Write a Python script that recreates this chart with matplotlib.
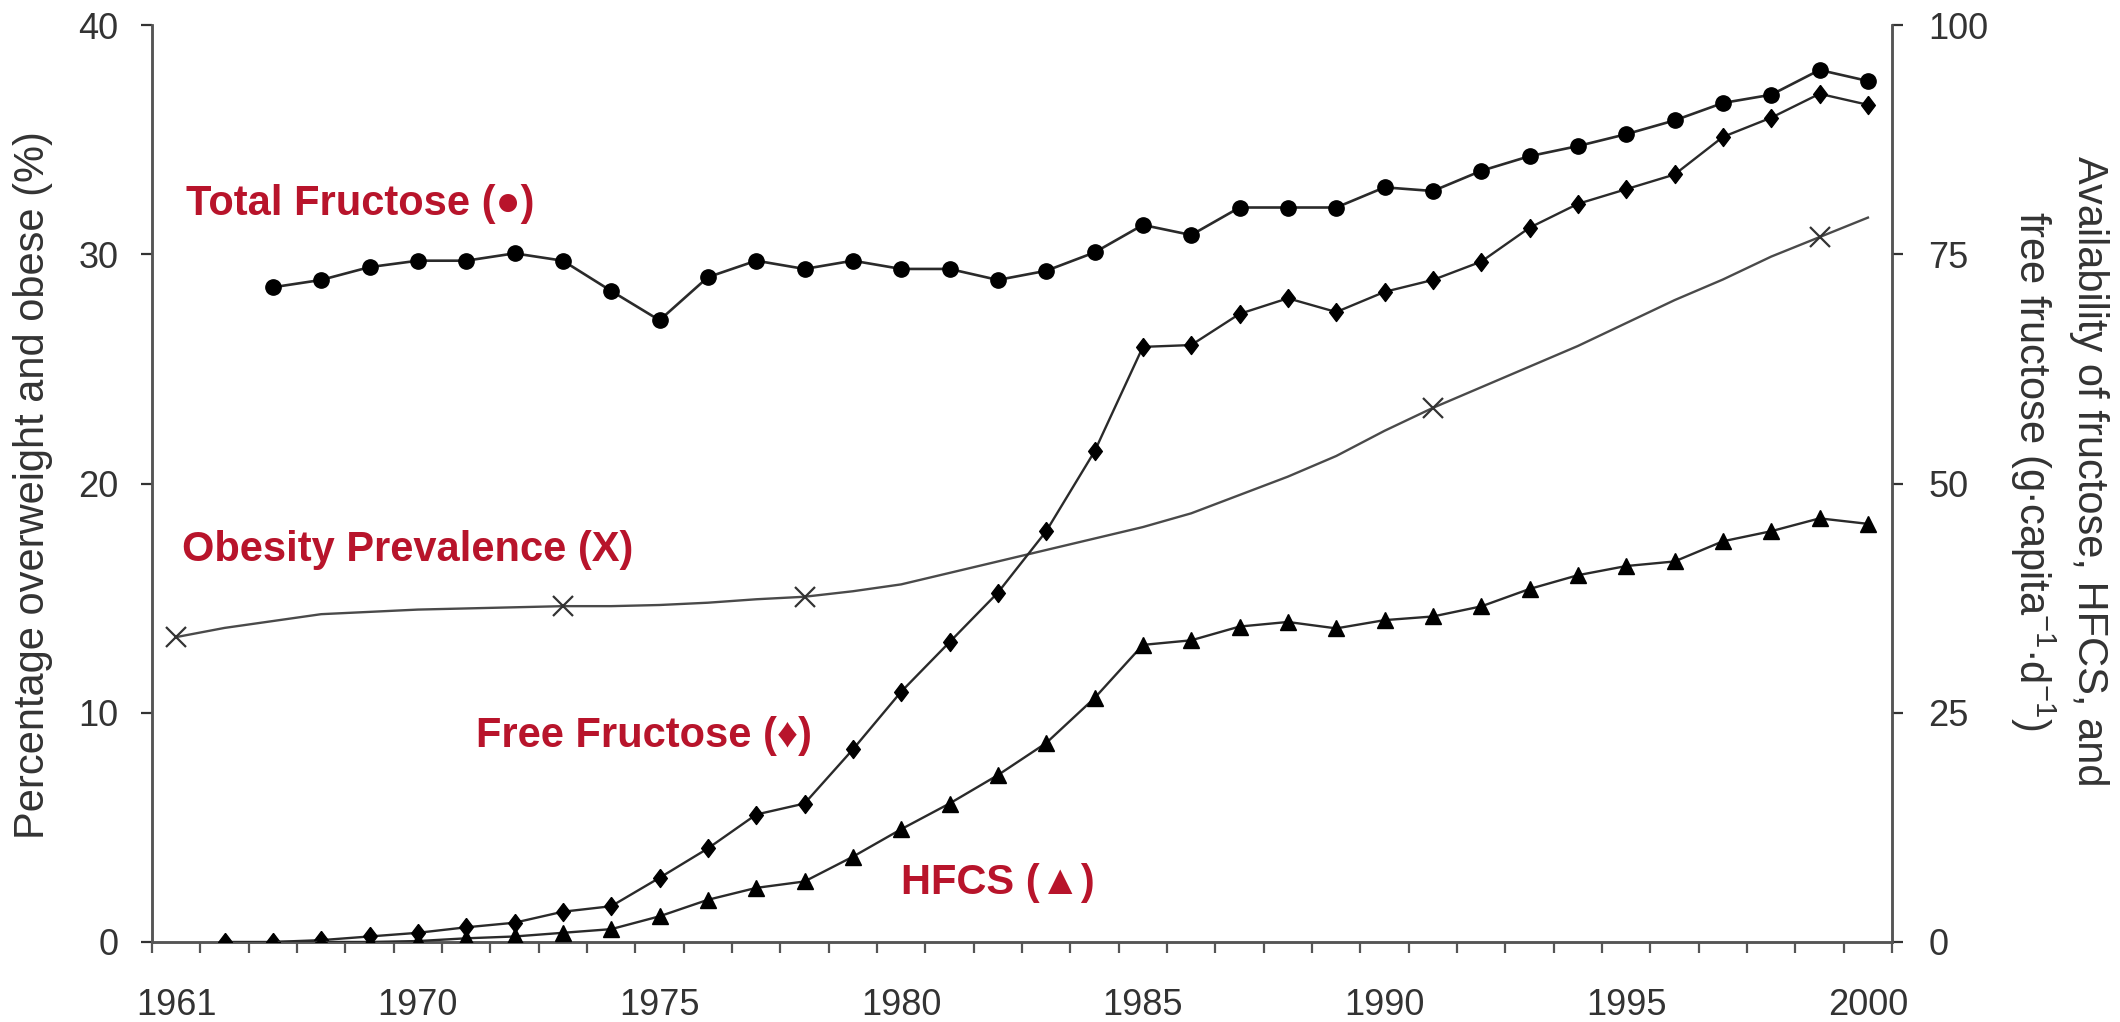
import numpy as np
import matplotlib
matplotlib.use("Agg")
import matplotlib.pyplot as plt

## fonts - arial look-alike
plt.rcParams['font.family'] = ['Liberation Sans', 'DejaVu Sans']
plt.rcParams['mathtext.fontset'] = 'custom'
plt.rcParams['mathtext.rm'] = 'Liberation Sans'

## categories on the x axis (first one is the 1961 survey, then 1966 to 2000)
years = [1961] + list(range(1966, 2001))

## total fructose, g/capita/day (right axis)
total_fructose = [np.nan, np.nan,
                  71.4, 72.2, 73.6, 74.3, 74.3, 75.1, 74.3, 71.0, 67.8,
                  72.5, 74.3, 73.4, 74.3, 73.4, 73.4, 72.2, 73.2, 75.2,
                  78.2, 77.1, 80.1, 80.1, 80.1, 82.3, 81.9, 84.1, 85.7,
                  86.8, 88.1, 89.6, 91.5, 92.4, 95.1, 93.9]

## free fructose, g/capita/day (right axis)
free_fructose = [np.nan, 0.0,
                 0.0, 0.2, 0.6, 1.0, 1.6, 2.1, 3.3, 3.9, 7.0,
                 10.2, 13.9, 15.1, 21.0, 27.3, 32.7, 38.1, 44.8, 53.5,
                 64.9, 65.1, 68.5, 70.2, 68.7, 70.9, 72.2, 74.2, 77.9,
                 80.5, 82.1, 83.7, 87.8, 89.9, 92.5, 91.3]

## high fructose corn syrup, g/capita/day (right axis)
hfcs = [np.nan, np.nan,
        0.0, 0.0, 0.0, 0.1, 0.4, 0.6, 1.0, 1.4, 2.8,
        4.6, 5.9, 6.6, 9.3, 12.3, 15.1, 18.2, 21.7, 26.6,
        32.4, 32.9, 34.4, 34.9, 34.2, 35.1, 35.5, 36.6, 38.5,
        40.0, 41.0, 41.5, 43.7, 44.8, 46.2, 45.6]

## obesity prevalence (%), left axis
obesity = [13.3, 13.7,
           14.0, 14.3, 14.4, 14.5, 14.55, 14.6, 14.65, 14.65, 14.7,
           14.8, 14.95, 15.06, 15.3, 15.6, 16.1, 16.6, 17.1, 17.6,
           18.1, 18.7, 19.5, 20.3, 21.2, 22.3, 23.3, 24.2, 25.1,
           26.0, 27.0, 28.0, 28.9, 29.9, 30.75, 31.6]
survey_years = [1961, 1973, 1978, 1991, 1999]

label_years = [1961, 1970, 1975, 1980, 1985, 1990, 1995, 2000]

x = np.arange(len(years))
survey_idx = [years.index(y) for y in survey_years]

fig = plt.figure(figsize=(21.2, 10.22), dpi=100)
ax = fig.add_axes([0.0717, 0.0783, 0.8208, 0.8972])
ax2 = ax.twinx()

## slightly squat diamond like the excel one
diamond = [(0, 1), (0.76, 0), (0, -1), (-0.76, 0), (0, 1)]

line_col = '#2a2a2a'
ax.plot(x, obesity, color='#4a4a4a', lw=1.7, marker='x', markevery=survey_idx,
        ms=14, mew=1.6, mec='#333333', zorder=2)
ax2.plot(x, total_fructose, color=line_col, lw=1.9, marker='o', ms=11,
         mfc='black', mec='black', zorder=3)
ax2.plot(x, free_fructose, color=line_col, lw=1.7, marker=diamond, ms=13,
         mfc='black', mec='black', zorder=3)
ax2.plot(x, hfcs, color=line_col, lw=1.7, marker='^', ms=11.5,
         mfc='black', mec='black', zorder=3)

ax.set_xlim(-0.5, len(years) - 0.5)
ax.set_ylim(0, 40)
ax2.set_ylim(0, 100)
ax.set_yticks([0, 10, 20, 30, 40])
ax2.set_yticks([0, 25, 50, 75, 100])

## category labels in the middle, tick marks on the boundaries (excel style)
ax.set_xticks([years.index(y) for y in label_years])
ax.set_xticklabels([str(y) for y in label_years])
ax.set_xticks(np.arange(-0.5, len(years)), minor=True)
ax.tick_params(axis='x', which='major', length=0, pad=33, labelsize=26, colors='#333333')
ax.tick_params(axis='x', which='minor', length=8, width=1.6, direction='out', color='#555555')
ax.tick_params(axis='y', length=8, width=1.6, pad=16, labelsize=26, colors='#333333')
ax2.tick_params(axis='y', length=8, width=1.6, pad=18, labelsize=26, colors='#333333')

for a in (ax, ax2):
    a.spines['top'].set_visible(False)
    for s in ('left', 'right', 'bottom'):
        a.spines[s].set_color('#555555')
        a.spines[s].set_linewidth(1.8)

## axis titles placed by hand
fig.text(0.0156, 0.5254, 'Percentage overweight and obese (%)', fontsize=30,
         color='#333333', rotation=90, ha='center', va='center')
fig.text(0.9708, 0.539, 'Availability of fructose, HFCS, and\n'
         r'free fructose (g$\bullet$capita$^{-1}$$\bullet$d$^{-1}$)',
         fontsize=30, color='#333333', rotation=270, ha='center', va='center',
         multialignment='center', linespacing=1.3)

## red series labels
red = '#b8142b'
lab = dict(color=red, fontsize=30, fontweight='bold', transform=ax.transAxes,
           va='center', ha='left', family=['Liberation Sans', 'DejaVu Sans'])
ax.text(0.0195, 0.805, 'Total Fructose (●)', **lab)
ax.text(0.0172, 0.4275, 'Obesity Prevalence (X)', **lab)
ax.text(0.186, 0.2246, 'Free Fructose (♦)', **lab)
ax.text(0.4305, 0.0643, 'HFCS (▲)', **lab)

fig.savefig('out.png', dpi=100)
